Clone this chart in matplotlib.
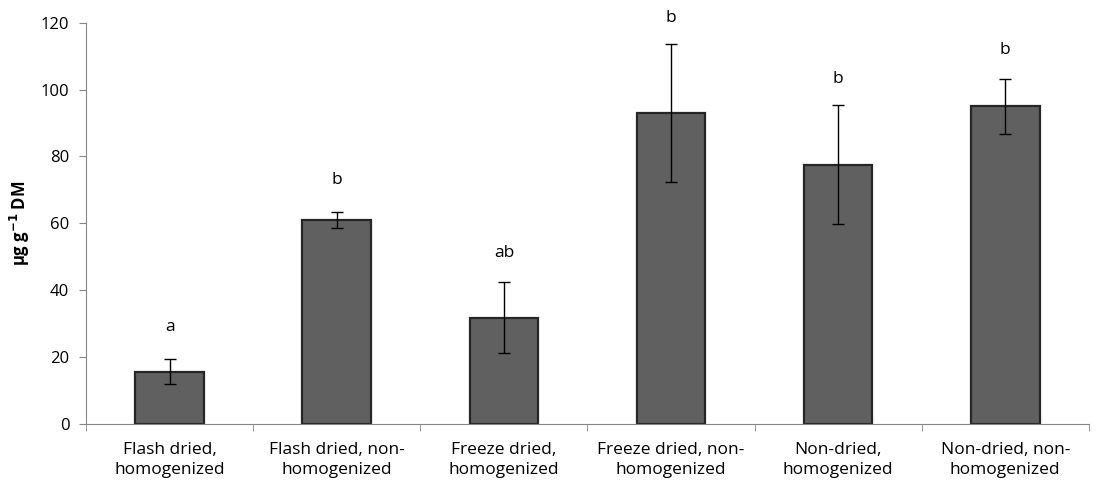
import matplotlib
matplotlib.use("Agg")
import matplotlib.pyplot as plt
import numpy as np

plt.rcParams['font.family'] = ['Open Sans', 'DejaVu Sans']

categories = ["Flash dried,\nhomogenized", "Flash dried, non-\nhomogenized",
              "Freeze dried,\nhomogenized", "Freeze dried, non-\nhomogenized",
              "Non-dried,\nhomogenized", "Non-dried, non-\nhomogenized"]
means = [15.6, 61.0, 31.8, 93.0, 77.6, 95.0]
errors = [3.8, 2.4, 10.7, 20.7, 17.9, 8.2]
letters = ["a", "b", "ab", "b", "b", "b"]
letter_y = [29.0, 73.0, 51.0, 121.5, 103.3, 112.0]

fig = plt.figure(figsize=(10.96, 4.86), dpi=100)
ax = fig.add_axes([0.0785, 0.128, 0.915, 0.825])

x = np.arange(len(categories))
ax.bar(x, means, width=0.41, color="#606060", edgecolor="#262626", linewidth=1.6,
       yerr=errors, error_kw=dict(ecolor="black", elinewidth=1, capsize=4, capthick=1))

for xi, lab, ly in zip(x, letters, letter_y):
    ax.text(xi, ly, lab, ha="center", va="center", fontsize=12.5)

ax.set_xlim(-0.5, len(categories) - 0.5)
ax.set_ylim(0, 120)
ax.set_yticks(np.arange(0, 121, 20))
ax.tick_params(axis="y", labelsize=12, direction="out", length=5, color="#868686", pad=7)
ax.set_xticks(x)
ax.set_xticklabels(categories, fontsize=12.5, linespacing=1.35)
ax.tick_params(axis="x", length=0, pad=13)
ax.set_xticks(np.arange(-0.5, len(categories), 1.0), minor=True)
ax.tick_params(axis="x", which="minor", direction="out", length=5, color="#868686")

for s in ["top", "right"]:
    ax.spines[s].set_visible(False)
ax.spines["left"].set_color("#868686")
ax.spines["bottom"].set_color("#868686")

ax.set_ylabel("µg g$^{\\mathbf{-1}}$ DM", fontsize=12, fontweight="bold", labelpad=6)

fig.savefig("out.png", dpi=100)
